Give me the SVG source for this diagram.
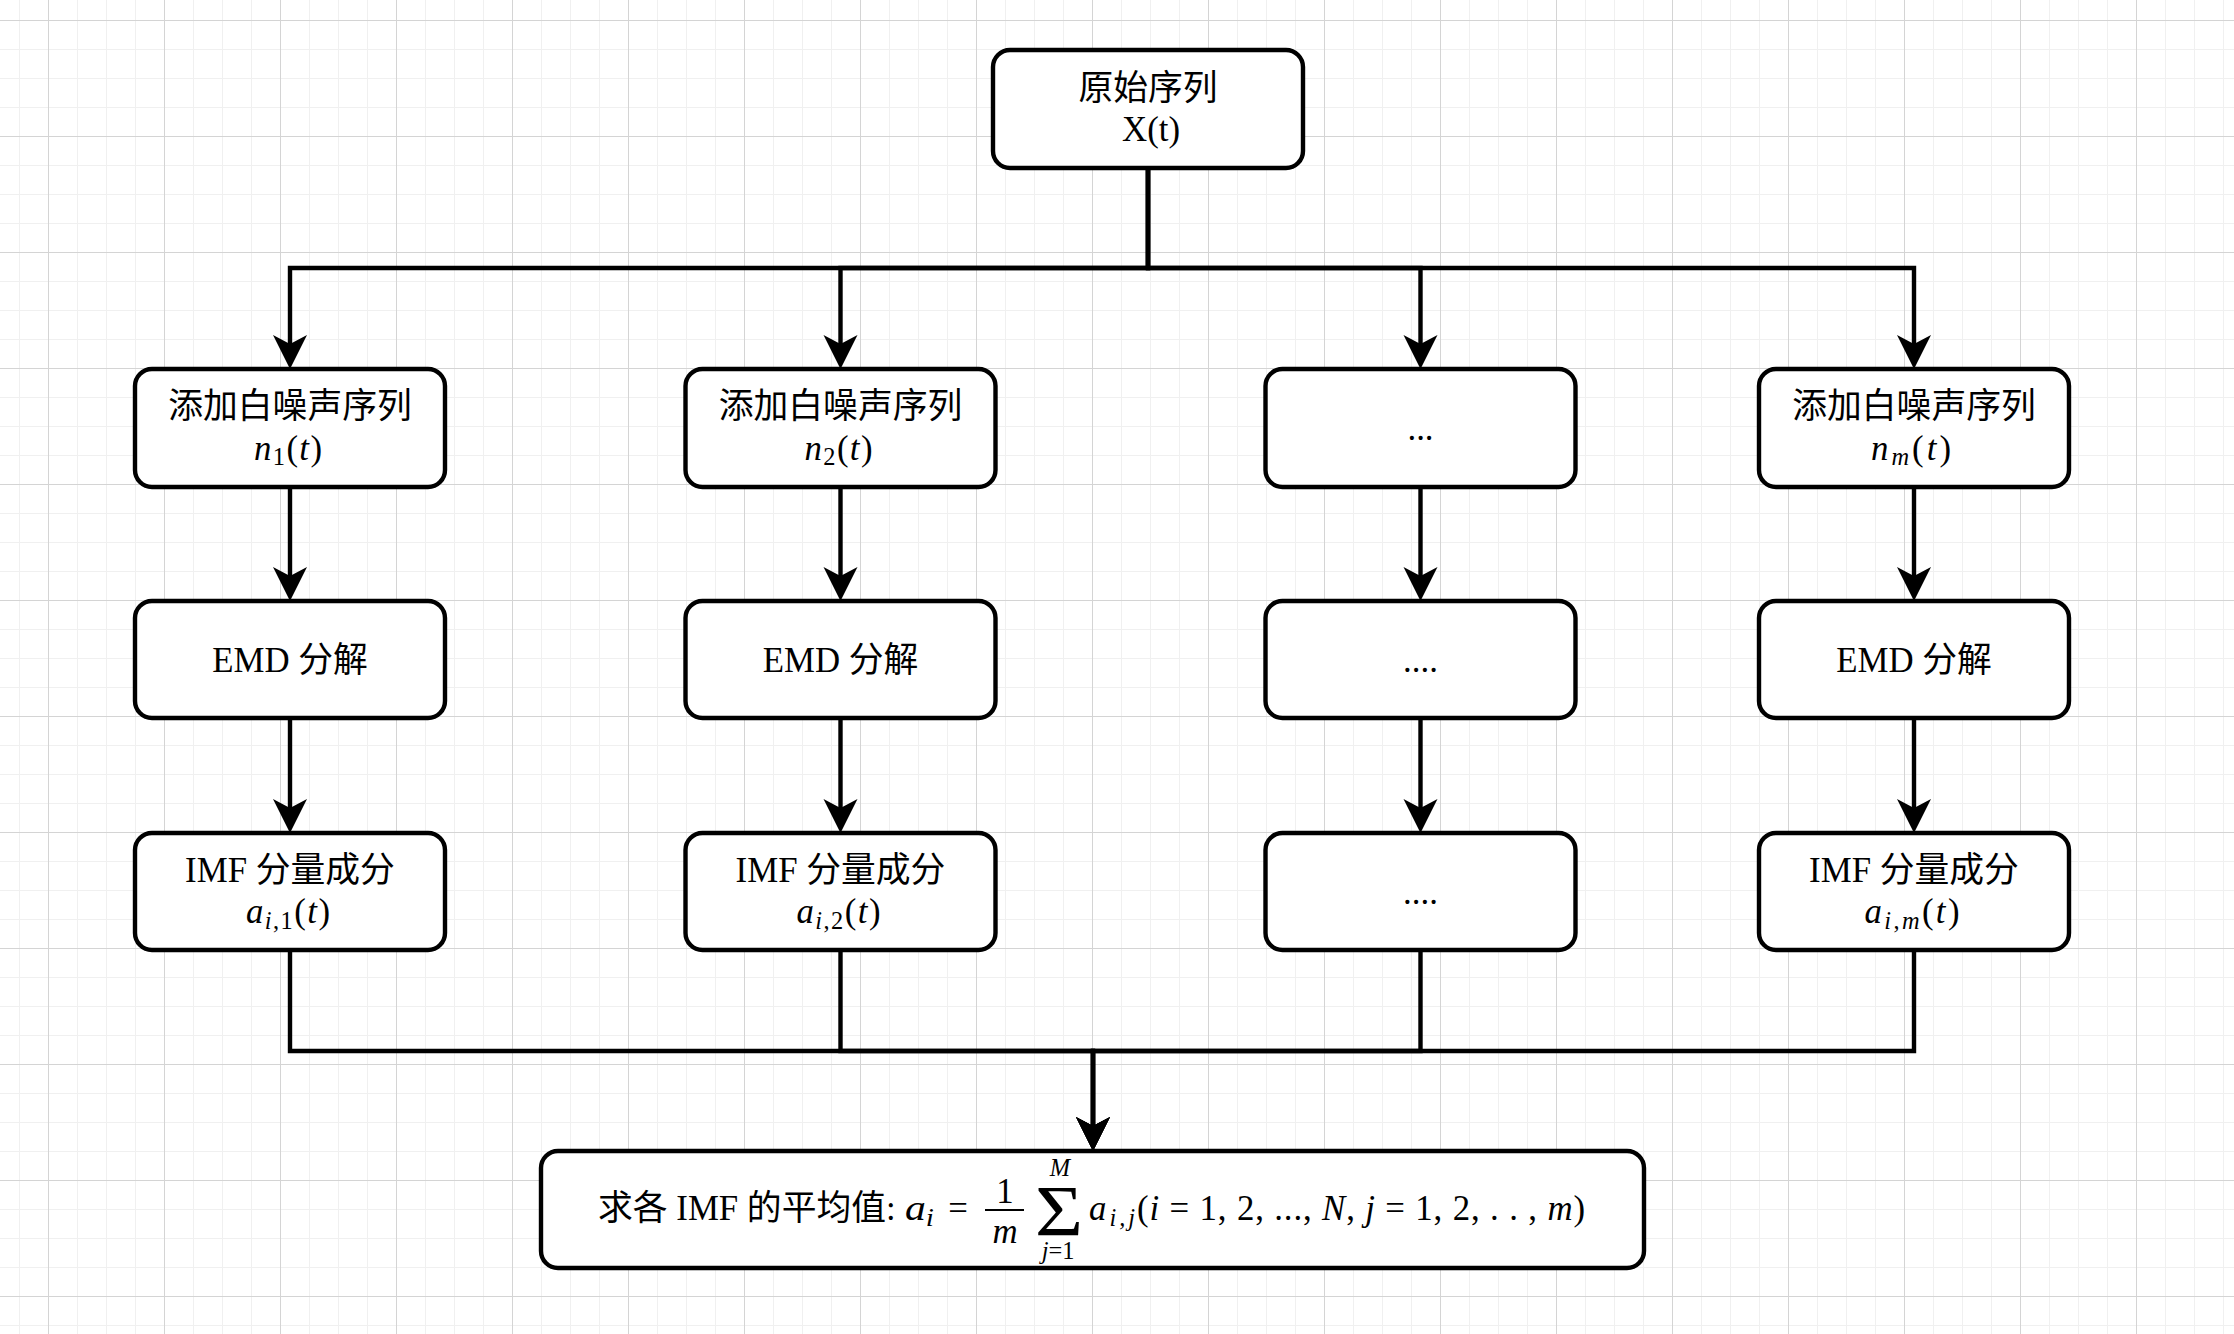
<svg xmlns="http://www.w3.org/2000/svg" width="2234" height="1334" viewBox="0 0 2234 1334">
<style>
.t{font-family:"Liberation Serif","Noto Sans CJK SC",serif;font-size:34.8px;fill:#000}
.c{text-anchor:middle}
.i{font-style:italic}
.sub{font-size:24.4px}
.box{fill:#fff;stroke:#000;stroke-width:4.4}
.edge{fill:none;stroke:#000;stroke-width:4.4}
</style>
<defs>
<pattern id="grid" x="48" y="20" width="116" height="116" patternUnits="userSpaceOnUse">
<rect width="116" height="116" fill="#fff"/>
<rect x="29" y="0" width="1" height="116" fill="#f0f0f0"/>
<rect x="58" y="0" width="1" height="116" fill="#f0f0f0"/>
<rect x="87" y="0" width="1" height="116" fill="#f0f0f0"/>
<rect x="0" y="29" width="116" height="1" fill="#f0f0f0"/>
<rect x="0" y="58" width="116" height="1" fill="#f0f0f0"/>
<rect x="0" y="87" width="116" height="1" fill="#f0f0f0"/>
<rect x="0" y="0" width="1" height="116" fill="#d4d4d4"/>
<rect x="0" y="0" width="116" height="1" fill="#d4d4d4"/>
</pattern>
<marker id="arr" markerUnits="userSpaceOnUse" markerWidth="36" markerHeight="36" viewBox="0 0 36 36" refX="24" refY="18" orient="auto">
<path d="M0,1 L34,18 L0,35 L9,18 Z" fill="#000"/>
</marker>
</defs>
<rect width="2234" height="1334" fill="url(#grid)"/>

<g id="connectors">
<path class="edge" d="M1148 168 V268 H290 V359" marker-end="url(#arr)"/>
<path class="edge" d="M1148 168 V268 H840.5 V359" marker-end="url(#arr)"/>
<path class="edge" d="M1148 168 V268 H1420.5 V359" marker-end="url(#arr)"/>
<path class="edge" d="M1148 168 V268 H1914 V359" marker-end="url(#arr)"/>
<path class="edge" d="M290 487 V591" marker-end="url(#arr)"/>
<path class="edge" d="M840.5 487 V591" marker-end="url(#arr)"/>
<path class="edge" d="M1420.5 487 V591" marker-end="url(#arr)"/>
<path class="edge" d="M1914 487 V591" marker-end="url(#arr)"/>
<path class="edge" d="M290 718 V823" marker-end="url(#arr)"/>
<path class="edge" d="M840.5 718 V823" marker-end="url(#arr)"/>
<path class="edge" d="M1420.5 718 V823" marker-end="url(#arr)"/>
<path class="edge" d="M1914 718 V823" marker-end="url(#arr)"/>
<path class="edge" d="M290 950 V1051 H1093 V1141" marker-end="url(#arr)"/>
<path class="edge" d="M840.5 950 V1051 H1093 V1141" marker-end="url(#arr)"/>
<path class="edge" d="M1420.5 950 V1051 H1093 V1141" marker-end="url(#arr)"/>
<path class="edge" d="M1914 950 V1051 H1093 V1141" marker-end="url(#arr)"/>
</g>

<g id="node-source">
<rect class="box" x="993" y="50" width="310" height="118" rx="17"/>
<text class="t c" x="1148" y="100">原始序列</text>
<text class="t c" x="1151" y="141">X(t)</text>
</g>

<g id="node-noise-1">
<rect class="box" x="135" y="369" width="310" height="118" rx="17"/>
<text class="t c" x="290" y="418">添加白噪声序列</text>
<text class="t c" x="288" y="460" textLength="68" lengthAdjust="spacing"><tspan class="i">n</tspan><tspan class="sub" dy="5">1</tspan><tspan dy="-5">(</tspan><tspan class="i">t</tspan>)</text>
</g>
<g id="node-noise-2">
<rect class="box" x="685.5" y="369" width="310" height="118" rx="17"/>
<text class="t c" x="840.5" y="418">添加白噪声序列</text>
<text class="t c" x="838.5" y="460" textLength="68" lengthAdjust="spacing"><tspan class="i">n</tspan><tspan class="sub" dy="5">2</tspan><tspan dy="-5">(</tspan><tspan class="i">t</tspan>)</text>
</g>
<g id="node-noise-dots">
<rect class="box" x="1265.5" y="369" width="310" height="118" rx="17"/>
<text class="t c" x="1420.5" y="440">...</text>
</g>
<g id="node-noise-m">
<rect class="box" x="1759" y="369" width="310" height="118" rx="17"/>
<text class="t c" x="1914" y="418">添加白噪声序列</text>
<text class="t c" x="1911" y="460" textLength="80" lengthAdjust="spacing"><tspan class="i">n</tspan><tspan class="sub i" dy="5">m</tspan><tspan dy="-5">(</tspan><tspan class="i">t</tspan>)</text>
</g>

<g id="node-emd-1">
<rect class="box" x="135" y="601" width="310" height="117" rx="17"/>
<text class="t c" x="290" y="672">EMD 分解</text>
</g>
<g id="node-emd-2">
<rect class="box" x="685.5" y="601" width="310" height="117" rx="17"/>
<text class="t c" x="840.5" y="672">EMD 分解</text>
</g>
<g id="node-emd-dots">
<rect class="box" x="1265.5" y="601" width="310" height="117" rx="17"/>
<text class="t c" x="1420.5" y="672">....</text>
</g>
<g id="node-emd-m">
<rect class="box" x="1759" y="601" width="310" height="117" rx="17"/>
<text class="t c" x="1914" y="672">EMD 分解</text>
</g>

<g id="node-imf-1">
<rect class="box" x="135" y="833" width="310" height="117" rx="17"/>
<text class="t c" x="290" y="882">IMF 分量成分</text>
<text class="t c" x="288" y="923" textLength="84" lengthAdjust="spacing"><tspan class="i">a</tspan><tspan class="sub" dy="6"><tspan class="i">i</tspan>,1</tspan><tspan dy="-6">(</tspan><tspan class="i">t</tspan>)</text>
</g>
<g id="node-imf-2">
<rect class="box" x="685.5" y="833" width="310" height="117" rx="17"/>
<text class="t c" x="840.5" y="882">IMF 分量成分</text>
<text class="t c" x="838.5" y="923" textLength="84" lengthAdjust="spacing"><tspan class="i">a</tspan><tspan class="sub" dy="6"><tspan class="i">i</tspan>,2</tspan><tspan dy="-6">(</tspan><tspan class="i">t</tspan>)</text>
</g>
<g id="node-imf-dots">
<rect class="box" x="1265.5" y="833" width="310" height="117" rx="17"/>
<text class="t c" x="1420.5" y="904">....</text>
</g>
<g id="node-imf-m">
<rect class="box" x="1759" y="833" width="310" height="117" rx="17"/>
<text class="t c" x="1914" y="882">IMF 分量成分</text>
<text class="t c" x="1912" y="923" textLength="95" lengthAdjust="spacing"><tspan class="i">a</tspan><tspan class="sub" dy="6"><tspan class="i">i</tspan>,<tspan class="i">m</tspan></tspan><tspan dy="-6">(</tspan><tspan class="i">t</tspan>)</text>
</g>

<g id="node-mean">
<rect class="box" x="541" y="1151" width="1103" height="117" rx="17"/>
<text class="t" x="598" y="1220">求各 IMF 的平均值:</text>
<text class="t i" x="905" y="1220" textLength="29" lengthAdjust="spacingAndGlyphs">a<tspan class="sub" dy="6">i</tspan></text>
<text class="t c" x="958" y="1220">=</text>
<text class="t c" x="1005" y="1203">1</text>
<path d="M985 1210 H1024" stroke="#000" stroke-width="2"/>
<text class="t c i" x="1005" y="1243">m</text>
<text x="1035" y="1235" font-family="Liberation Serif" font-size="72" textLength="48" lengthAdjust="spacingAndGlyphs">Σ</text>
<text class="t c i sub" x="1060" y="1176">M</text>
<text class="t c sub" x="1058" y="1259"><tspan class="i">j</tspan>=1</text>
<text class="t i" x="1089" y="1220" textLength="46" lengthAdjust="spacing">a<tspan class="sub" dy="6">i,j</tspan></text>
<text class="t" x="1137" y="1220" textLength="448" lengthAdjust="spacing">(<tspan class="i">i</tspan> = 1, 2, ..., <tspan class="i">N</tspan>, <tspan class="i">j</tspan> = 1, 2, . . , <tspan class="i">m</tspan>)</text>
</g>
</svg>
